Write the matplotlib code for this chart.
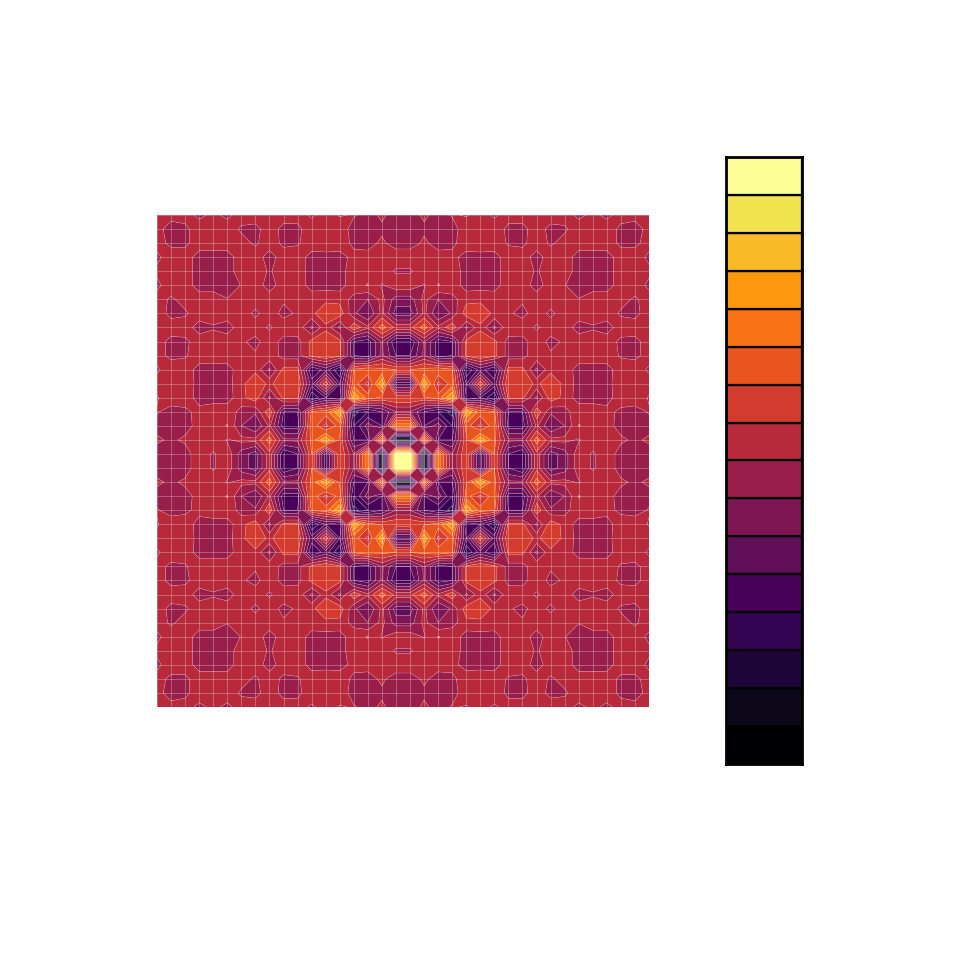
import numpy as np
import matplotlib
matplotlib.use("Agg")
import matplotlib.pyplot as plt

# one band per level, bottom to top
band_colors = ["#000004", "#0C0819", "#1E0538", "#320452", "#480058", "#600E58",
               "#7E1555", "#9A1E4A", "#B82A3B", "#D43B2F", "#E9541E", "#F87213",
               "#FC970E", "#F8BA26", "#F0E34F", "#FCFF96"]
levels = list(range(17))

# values, in level units; lower triangle of one quadrant
tri_rows = [
 [15.9],
 [0.4, 12.0],
 [12.0, 5.0, 6.5],
 [7.0, 5.0, 4.0, 2.5],
 [10.0, 9.8, 10.5, 13.0, 4.0],
 [4.5, 13.0, 8.7, 10.5, 5.0, 9.8],
 [10.0, 10.3, 10.8, 10.2, 3.0, 5.5, 4.0],
 [5.0, 7.2, 4.5, 5.0, 9.3, 9.9, 9.3, 7.6],
 [4.0, 7.2, 4.5, 5.0, 9.3, 9.9, 9.3, 7.6, 7.5],
 [8.7, 10.5, 8.2, 9.8, 6.8, 8.7, 6.8, 8.7, 8.8, 7.8],
 [5.5, 8.3, 6.0, 7.2, 9.6, 9.9, 8.7, 8.2, 7.6, 8.7, 7.7],
 [6.5, 8.3, 7.0, 7.6, 8.7, 8.7, 8.7, 8.7, 8.2, 8.7, 8.7, 8.8],
 [8.7, 7.9, 9.05, 8.7, 7.5, 7.6, 7.5, 8.7, 8.7, 7.4, 8.7, 8.05, 7.4],
 [7.85, 8.7, 8.7, 8.7, 7.5, 7.4, 7.5, 8.7, 8.7, 7.85, 8.7, 8.7, 7.4, 7.3],
 [8.7, 8.7, 8.4, 8.4, 7.5, 7.6, 7.5, 8.7, 8.7, 7.4, 8.7, 8.7, 7.4, 7.4, 7.4],
 [7.5, 8.2, 7.6, 7.7, 8.7, 8.7, 8.7, 7.85, 7.7, 8.7, 7.8, 8.5, 8.7, 8.7, 8.7, 7.7],
 [7.3, 7.8, 7.5, 7.5, 8.7, 8.7, 8.7, 7.7, 7.6, 8.7, 7.6, 7.8, 8.7, 8.7, 8.7, 7.7, 7.5],
 [7.5, 8.2, 7.6, 8.1, 7.9, 8.5, 7.8, 8.5, 8.6, 8.7, 8.7, 8.6, 7.7, 8.3, 7.7, 8.5, 8.4, 8.6],
]

n = len(tri_rows)
quad = np.zeros((n, n))
for j, row in enumerate(tri_rows):
    for i, v in enumerate(row):
        quad[j, i] = v
        quad[i, j] = v
top = np.hstack([quad[:, ::-1], quad])
z = np.vstack([top[::-1, :], top])
xs = np.arange(2 * n) - (2 * n - 1) / 2
ys = xs.copy()

W = 960.0
fig = plt.figure(figsize=(9.6, 9.6), dpi=100, facecolor="white")

ax = fig.add_axes([157 / W, 1 - 707 / W, 492 / W, 492 / W])
ax.contourf(xs, ys, z, levels=levels, colors=band_colors, antialiased=True)
ax.contour(xs, ys, z, levels=levels, colors="white", linewidths=0.4, alpha=0.3)
ax.vlines(xs, ys[0], ys[-1], colors="white", linewidths=0.7, alpha=0.28)
ax.hlines(ys, xs[0], xs[-1], colors="white", linewidths=0.7, alpha=0.28)
ax.set_xlim(xs[0], xs[-1])
ax.set_ylim(ys[0], ys[-1])
ax.axis("off")

cax = fig.add_axes([726 / W, 1 - 764 / W, 76 / W, 607 / W])
cax.bar(0, [1] * len(band_colors), bottom=levels[:-1], width=1, color=band_colors,
        edgecolor="black", linewidth=1.6)
cax.set_xlim(-0.5, 0.5)
cax.set_ylim(levels[0], levels[-1])
cax.set_xticks([])
cax.set_yticks([])
for s in cax.spines.values():
    s.set_linewidth(2)
    s.set_color("black")

fig.savefig("out.png", dpi=100, facecolor="white")
